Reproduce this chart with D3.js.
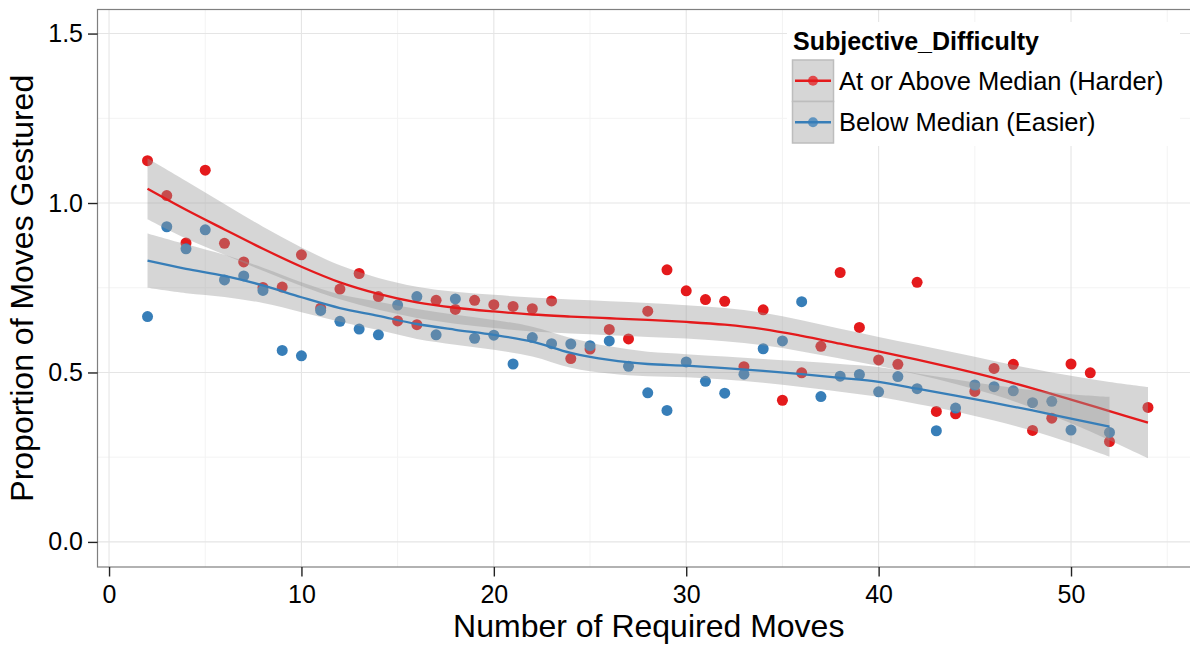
<!DOCTYPE html>
<html>
<head>
<meta charset="utf-8">
<script src="https://cdn.jsdelivr.net/npm/d3@7"></script>
<style>
  body { margin: 0; background: #fff; }
  svg { display: block; font-family: "Liberation Sans", Arial, sans-serif; }
</style>
</head>
<body>
<svg id="chart" width="1190" height="645"></svg>
<script>
// observed points: number of required moves -> proportion gestured
const redX = [2,3,4,5,6,7,8,9,10,11,12,13,14,15,16,17,18,19,20,21,22,23,24,25,26,27,28,29,30,31,32,33,34,35,36,37,38,39,40,41,42,43,44,45,46,47,48,49,50,51,52,54];
const redY = [1.125,1.022,0.882,1.097,0.881,0.826,0.751,0.752,0.847,0.690,0.746,0.792,0.724,0.652,0.641,0.713,0.686,0.713,0.700,0.695,0.688,0.711,0.541,0.569,0.627,0.599,0.681,0.803,0.741,0.715,0.710,0.517,0.685,0.418,0.499,0.577,0.795,0.633,0.537,0.524,0.766,0.385,0.378,0.444,0.512,0.524,0.329,0.365,0.525,0.499,0.296,0.397];
const blueX = [2,3,4,5,6,7,8,9,10,11,12,13,14,15,16,17,18,19,20,21,22,23,24,25,26,27,28,29,30,31,32,33,34,35,36,37,38,39,40,41,42,43,44,45,46,47,48,49,50,52];
const blueY = [0.665,0.930,0.865,0.921,0.773,0.785,0.742,0.565,0.549,0.683,0.651,0.628,0.611,0.699,0.724,0.611,0.717,0.601,0.610,0.525,0.603,0.585,0.584,0.579,0.593,0.518,0.440,0.388,0.531,0.474,0.439,0.495,0.570,0.593,0.709,0.429,0.489,0.494,0.443,0.488,0.452,0.328,0.395,0.463,0.458,0.446,0.411,0.415,0.330,0.323];

// loess fits with confidence band
const redFitX = [2,4,6,8,10,12,14,16,18,20,22,24,26,28,30,32,34,36,38,40,42,44,46,48,50,52,54];
const redFit = [1.042,0.980,0.922,0.865,0.812,0.766,0.732,0.707,0.691,0.680,0.671,0.665,0.660,0.655,0.649,0.641,0.628,0.608,0.585,0.562,0.538,0.512,0.484,0.453,0.420,0.386,0.352];
const redLo = [0.952,0.895,0.847,0.800,0.755,0.716,0.685,0.661,0.644,0.631,0.621,0.615,0.610,0.605,0.600,0.592,0.580,0.562,0.541,0.519,0.494,0.466,0.434,0.395,0.350,0.300,0.247];
const redHi = [1.132,1.065,0.997,0.930,0.869,0.816,0.779,0.753,0.738,0.729,0.721,0.715,0.710,0.705,0.698,0.690,0.676,0.654,0.629,0.605,0.582,0.558,0.534,0.511,0.490,0.472,0.457];

const blueFitX = [2,4,6,8,10,12,14,16,18,20,22,24,26,28,30,32,34,36,38,40,42,44,46,48,50,52];
const blueFit = [0.830,0.806,0.785,0.757,0.722,0.690,0.667,0.643,0.626,0.611,0.591,0.558,0.537,0.525,0.520,0.513,0.505,0.495,0.484,0.472,0.452,0.432,0.410,0.388,0.364,0.340];
const blueLo = [0.750,0.734,0.723,0.705,0.678,0.650,0.625,0.599,0.582,0.567,0.547,0.514,0.497,0.489,0.486,0.479,0.470,0.457,0.443,0.428,0.407,0.385,0.358,0.328,0.292,0.252];
const blueHi = [0.910,0.878,0.847,0.809,0.766,0.730,0.709,0.687,0.670,0.655,0.635,0.602,0.577,0.561,0.554,0.547,0.540,0.533,0.525,0.516,0.497,0.479,0.462,0.448,0.436,0.428];

const xTicks = [0,10,20,30,40,50];
const xMinor = [5,15,25,35,45,55];
const yTicks = [0,0.5,1,1.5];
const yMinor = [0.25,0.75,1.25];

const groups = [
  { name: "At or Above Median (Harder)", color: "#E41A1C", px: redX, py: redY, fx: redFitX, fit: redFit, lo: redLo, hi: redHi },
  { name: "Below Median (Easier)", color: "#377EB8", px: blueX, py: blueY, fx: blueFitX, fit: blueFit, lo: blueLo, hi: blueHi }
];

const panel = { left: 97.5, top: 9.5, right: 1198, bottom: 567 };

const x = d3.scaleLinear().domain([-0.6, 56.6]).range([panel.left, panel.right]);
const y = d3.scaleLinear().domain([-0.074, 1.571]).range([panel.bottom, panel.top]);

const svg = d3.select("#chart");

// panel grid
const grid = svg.append("g");
grid.selectAll(".xminor").data(xMinor).join("line")
  .attr("x1", d => x(d)).attr("x2", d => x(d))
  .attr("y1", panel.top).attr("y2", panel.bottom)
  .attr("stroke", "#F3F3F3").attr("stroke-width", 1);
grid.selectAll(".yminor").data(yMinor).join("line")
  .attr("y1", d => y(d)).attr("y2", d => y(d))
  .attr("x1", panel.left).attr("x2", panel.right)
  .attr("stroke", "#F3F3F3").attr("stroke-width", 1);
grid.selectAll(".xmajor").data(xTicks).join("line")
  .attr("x1", d => x(d)).attr("x2", d => x(d))
  .attr("y1", panel.top).attr("y2", panel.bottom)
  .attr("stroke", "#E5E5E5").attr("stroke-width", 1.1);
grid.selectAll(".ymajor").data(yTicks).join("line")
  .attr("y1", d => y(d)).attr("y2", d => y(d))
  .attr("x1", panel.left).attr("x2", panel.right)
  .attr("stroke", "#E5E5E5").attr("stroke-width", 1.1);

// points
groups.forEach(g => {
  svg.append("g").selectAll("circle")
    .data(g.px.map((v, i) => [v, g.py[i]]))
    .join("circle")
    .attr("cx", d => x(d[0]))
    .attr("cy", d => y(d[1]))
    .attr("r", 5.5)
    .attr("fill", g.color);
});

// smooths: ribbon then line, per group
const area = d3.area().curve(d3.curveCatmullRom);
const line = d3.line().curve(d3.curveCatmullRom);
groups.forEach(g => {
  const rows = g.fx.map((v, i) => ({ x: v, fit: g.fit[i], lo: g.lo[i], hi: g.hi[i] }));
  svg.append("path")
    .attr("d", area.x(d => x(d.x)).y0(d => y(d.lo)).y1(d => y(d.hi))(rows))
    .attr("fill", "#999999").attr("fill-opacity", 0.4);
  svg.append("path")
    .attr("d", line.x(d => x(d.x)).y(d => y(d.fit))(rows))
    .attr("fill", "none").attr("stroke", g.color).attr("stroke-width", 2.3);
});

// panel border
svg.append("rect")
  .attr("x", panel.left).attr("y", panel.top)
  .attr("width", panel.right - panel.left).attr("height", panel.bottom - panel.top)
  .attr("fill", "none").attr("stroke", "#7F7F7F").attr("stroke-width", 1.2);

// axes
const xAxis = svg.append("g")
  .attr("transform", `translate(0,${panel.bottom})`)
  .call(d3.axisBottom(x).tickValues(xTicks).tickSize(9.5).tickPadding(9).tickFormat(d3.format("d")));
const yAxis = svg.append("g")
  .attr("transform", `translate(${panel.left},0)`)
  .call(d3.axisLeft(y).tickValues(yTicks).tickSize(9.5).tickPadding(5).tickFormat(d3.format(".1f")));
[xAxis, yAxis].forEach(a => {
  a.select(".domain").remove();
  a.selectAll(".tick line").attr("stroke", "#222").attr("stroke-width", 1.4);
  a.selectAll(".tick text").attr("fill", "#000").attr("font-size", 25)
    .attr("font-family", "Liberation Sans, Arial, sans-serif");
});

svg.append("text")
  .attr("x", (panel.left + 1190) / 2 + 5).attr("y", 637)
  .attr("text-anchor", "middle").attr("font-size", 32)
  .text("Number of Required Moves");
svg.append("text")
  .attr("transform", `translate(33,${(panel.top + panel.bottom) / 2}) rotate(-90)`)
  .attr("text-anchor", "middle").attr("font-size", 32)
  .text("Proportion of Moves Gestured");

// legend
const lg = svg.append("g").attr("transform", "translate(787,22)");
lg.append("rect").attr("width", 393).attr("height", 124).attr("fill", "#fff");
lg.append("text").attr("x", 6).attr("y", 28)
  .attr("font-size", 25).attr("font-weight", "bold").text("Subjective_Difficulty");
groups.forEach((g, i) => {
  const ky = 38 + i * 41.5;
  lg.append("rect").attr("x", 5.5).attr("y", ky).attr("width", 41).attr("height", 41.5)
    .attr("fill", "#D6D6D6").attr("stroke", "#BDBDBD").attr("stroke-width", 1.5);
  lg.append("line").attr("x1", 8).attr("x2", 44).attr("y1", ky + 20.75).attr("y2", ky + 20.75)
    .attr("stroke", g.color).attr("stroke-width", 2.3);
  lg.append("circle").attr("cx", 26).attr("cy", ky + 20.75).attr("r", 5).attr("fill", g.color).attr("fill-opacity", 0.75);
  lg.append("text").attr("x", 52).attr("y", ky + 29.5)
    .attr("font-size", 25.5).text(g.name);
});
</script>
</body>
</html>
